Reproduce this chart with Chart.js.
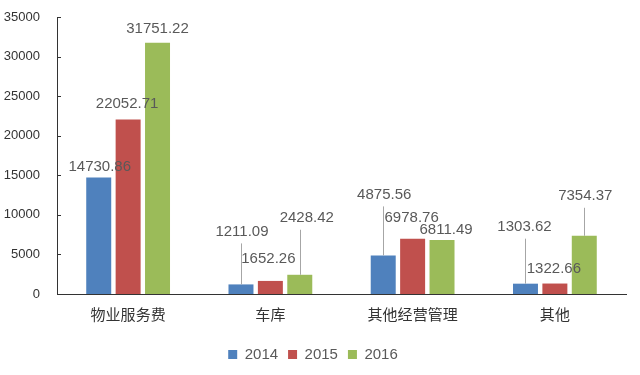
<!DOCTYPE html>
<html>
<head>
<meta charset="utf-8">
<script src="https://cdn.jsdelivr.net/npm/chart.js@4.4.1/dist/chart.umd.min.js"></script>
<style>
  html, body { margin: 0; padding: 0; background: #fff; }
  #wrap { width: 640px; height: 375px; }
</style>
</head>
<body>
<div id="wrap"><canvas id="chartCanvas" width="640" height="375"></canvas></div>
<script>
const categories = ['物业服务费', '车库', '其他经营管理', '其他'];
const years = ['2014', '2015', '2016'];
const values2014 = [14730.86, 1211.09, 4875.56, 1303.62];
const values2015 = [22052.71, 1652.26, 6978.76, 1322.66];
const values2016 = [31751.22, 2428.42, 6811.49, 7354.37];
const yTicks = [0, 5000, 10000, 15000, 20000, 25000, 30000, 35000];

const colors = ['#4F81BD', '#C0504D', '#9BBB59'];

// label placement (text centre relative to bar top) and leader lines, per series
const labelDx = [[1, 1, 1, -1], [-1, -2, -1, -1], [0, 7, 4, 1]];
const labelRise = [[11, 53, 61, 57], [16, 22, 21, 15], [14, 57, 10, 40]];
const leader = [[false, true, true, true], [false, false, false, false], [false, true, false, true]];

const labelFont = '15px "Liberation Sans", Arial, sans-serif';

const barLabels = {
    id: 'barLabels',
    afterDatasetsDraw(chart) {
        const ctx = chart.ctx;
        ctx.save();
        ctx.font = labelFont;
        ctx.textAlign = 'center';
        ctx.textBaseline = 'middle';
        chart.data.datasets.forEach((ds, di) => {
            const meta = chart.getDatasetMeta(di);
            meta.data.forEach((bar, i) => {
                const tx = bar.x + labelDx[di][i];
                const ty = bar.y - labelRise[di][i];
                if (leader[di][i]) {
                    ctx.strokeStyle = '#a6a6a6';
                    ctx.lineWidth = 1;
                    ctx.beginPath();
                    ctx.moveTo(Math.round(bar.x) + 0.5, ty + 12);
                    ctx.lineTo(Math.round(bar.x) + 0.5, bar.y);
                    ctx.stroke();
                }
                ctx.fillStyle = '#595959';
                ctx.fillText(ds.data[i].toFixed(2), tx, ty);
            });
        });
        // small inward tick marks on the value axis
        const y = chart.scales.y;
        ctx.strokeStyle = '#333';
        ctx.lineWidth = 1;
        yTicks.forEach(v => {
            const py = Math.round(y.getPixelForValue(v)) + 0.5;
            ctx.beginPath();
            ctx.moveTo(y.right, py);
            ctx.lineTo(y.right + 4, py);
            ctx.stroke();
        });
        ctx.restore();
    }
};

const seriesValues = [values2014, values2015, values2016];

new Chart(document.getElementById('chartCanvas'), {
    type: 'bar',
    data: {
        labels: categories,
        datasets: years.map((yr, i) => ({
            label: yr,
            data: seriesValues[i],
            backgroundColor: colors[i],
            borderWidth: 0,
            categoryPercentage: 0.62,
            barPercentage: 0.85
        }))
    },
    options: {
        responsive: false,
        animation: false,
        layout: { padding: { top: 17, right: 14, left: 0, bottom: 3 } },
        plugins: {
            tooltip: { enabled: false },
            legend: {
                position: 'bottom',
                labels: {
                    boxWidth: 9,
                    boxHeight: 9,
                    padding: 10,
                    color: '#595959',
                    font: { family: '"Liberation Sans", Arial, sans-serif', size: 15 }
                }
            }
        },
        scales: {
            x: {
                grid: { display: false },
                border: { display: true, color: '#333', width: 1 },
                ticks: {
                    color: '#333',
                    padding: 3,
                    font: { family: '"Noto Sans CJK SC", sans-serif', size: 15 }
                },
                afterFit(scale) { scale.height = 43; }
            },
            y: {
                min: 0,
                max: 35000,
                grid: { display: false },
                border: { display: true, color: '#333', width: 1 },
                afterBuildTicks(scale) { scale.ticks = yTicks.map(v => ({ value: v })); },
                ticks: {
                    color: '#333',
                    padding: 9,
                    callback: v => String(v),
                    font: { family: '"Liberation Sans", Arial, sans-serif', size: 13 }
                },
                afterFit(scale) { scale.width = 57; }
            }
        }
    },
    plugins: [barLabels]
});
</script>
</body>
</html>
